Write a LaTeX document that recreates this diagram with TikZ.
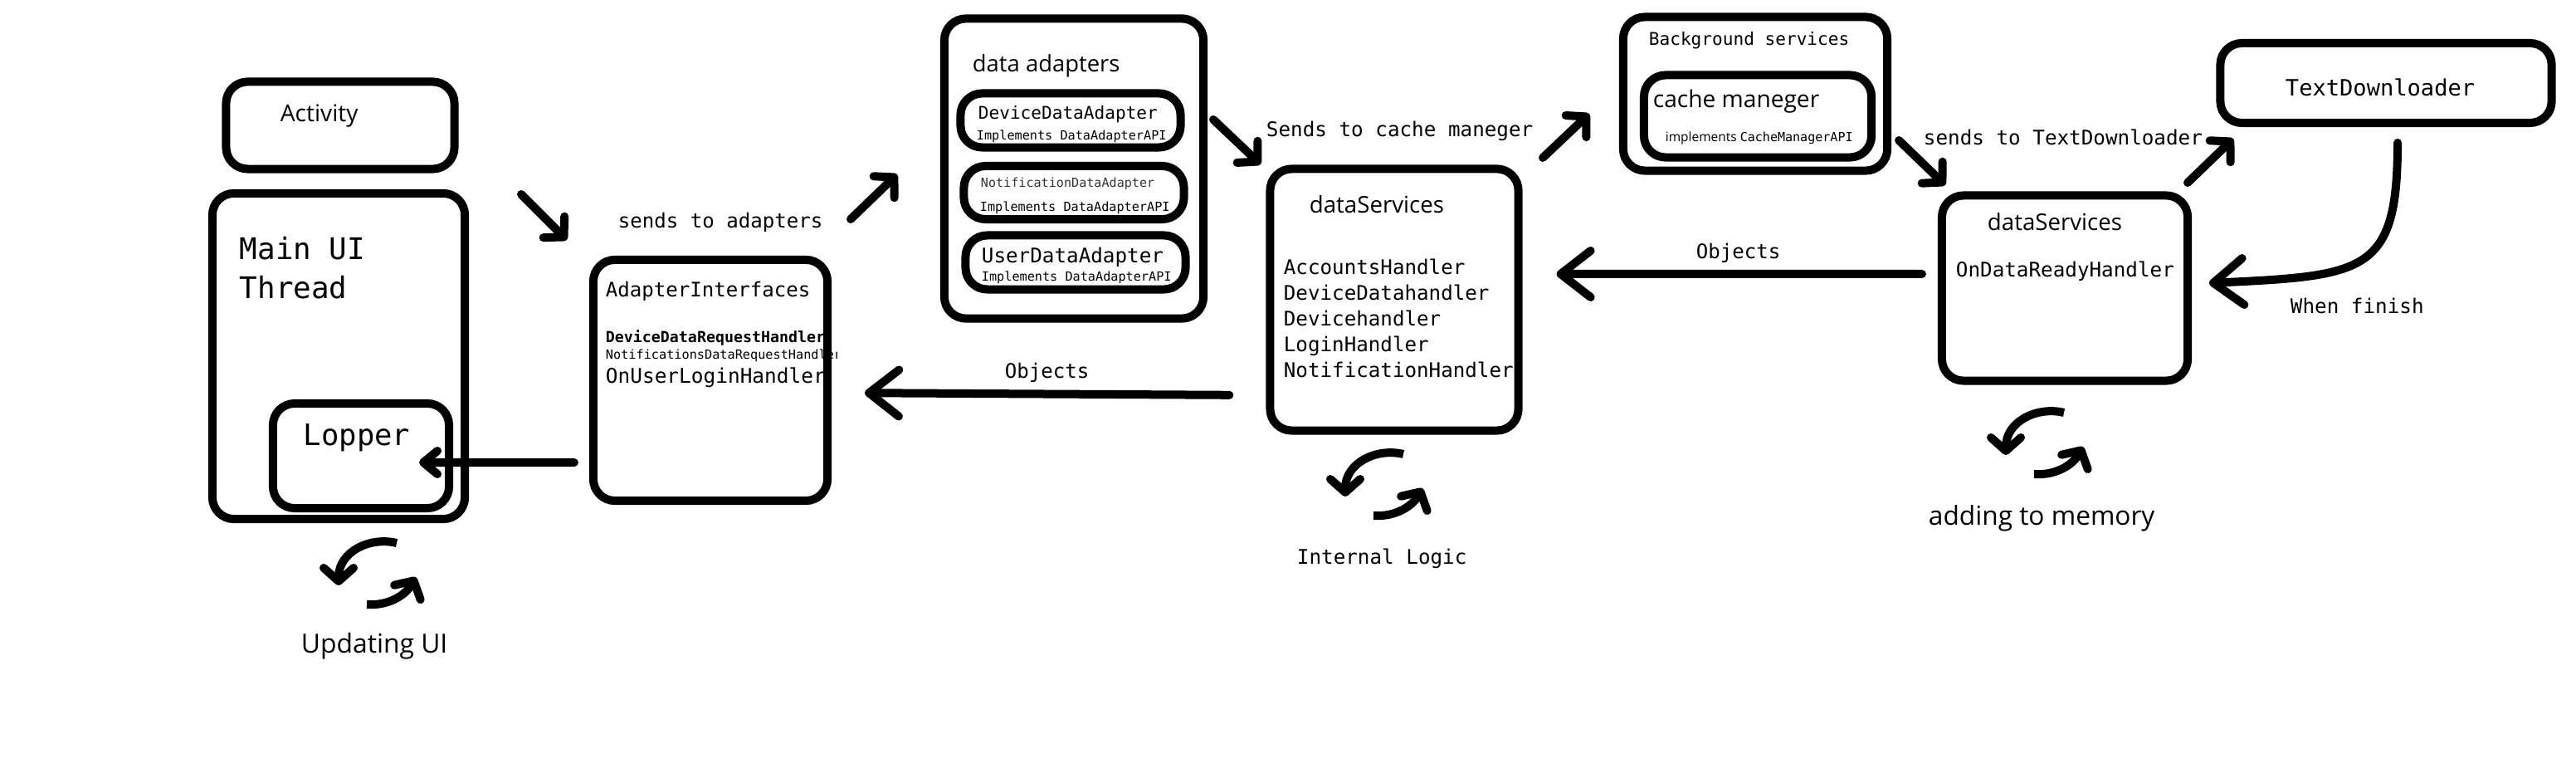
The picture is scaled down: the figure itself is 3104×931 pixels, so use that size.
\documentclass[tikz,border=0pt]{standalone}
\usepackage{fontspec}
\setmainfont{Open Sans}
\setmonofont{DejaVu Sans Mono}
\usetikzlibrary{arrows.meta}

\tikzset{
	box/.style={draw, line width=0.1cm, rounded corners=0.26cm, inner sep=0pt},
	monotext/.style={font=\ttfamily\fontsize{#1}{8.8}\selectfont, anchor=base west, inner sep=0pt, align=left, xshift=-0.008cm, yshift=-0.005cm},
	sanstext/.style={font=\fontsize{#1}{10}\selectfont, anchor=base west, inner sep=0pt, xshift=-0.008cm, yshift=-0.005cm},
	bigarrow/.style={line width=0.1cm, line cap=round, -{Straight Barb[round,length=0.36cm,width=0.56cm]}},
	diagarrow/.style={line width=0.1cm, line cap=round, -{Straight Barb[round,length=0.17cm,width=0.36cm]}},
	smallarrow/.style={line width=0.1cm, line cap=round, -{Straight Barb[round,length=0.17cm,width=0.28cm]}},
	syncloop/.pic={
		\draw[line width=0.1cm, -{Straight Barb[round,length=0.16cm,width=0.36cm]}] (28,-36) .. controls (-5,-44) and (-42,-25) .. (-42,15);
		\draw[line width=0.1cm, -{Straight Barb[round,length=0.16cm,width=0.36cm]}] (-8,38) .. controls (20,40) and (40,25) .. (51,5);
	}
}

\begin{document}
\begin{tikzpicture}[x=0.01cm, y=-0.01cm]
	\useasboundingbox (0,0) rectangle (3104,931);

	% texts go first, the box lines cover what runs too far
	\node[sanstext=8] (activitytext) at (338,146) {Activity};
	\node[monotext=10.2, font=\ttfamily\fontsize{10.2}{13.4}\selectfont] (mainthreadtext) at (289,359) {Main UI\\Thread};
	\node[monotext=10.1] (loppertext) at (366,536) {Lopper};
	\node[sanstext=9.05] (updatingtext) at (363,786) {Updating UI};
	\node[monotext=6.85] (sendsadapterstext) at (745,274) {sends to adapters};
	\node[monotext=6.85] (adapteriftext) at (730,357) {AdapterInterfaces};
	\node[monotext=5.2, font=\ttfamily\bfseries\fontsize{5.2}{7}\selectfont] (devicereqtext) at (730,412) {DeviceDataRequestHandler};
	\begin{scope}
		\clip (700,415) rectangle (1008,440);
		\node[monotext=4.33] (notifreqtext) at (730,432) {NotificationsDataRequestHandler};
	\end{scope}
	\node[monotext=6.95] (userlogintext) at (730,461) {OnUserLoginHandler};
	\node[monotext=6.85] (objectstext) at (1211,455) {Objects};

	\node[sanstext=7.8] (dataadapterstext) at (1172,86) {data adapters};
	\node[monotext=6] (devicetext) at (1179,143) {DeviceDataAdapter};
	\node[monotext=4.32] (deviceapitext) at (1177,168) {Implements DataAdapterAPI};
	\node[monotext=4.3, text=black!80] (notiftext) at (1182,225) {NotificationDataAdapter};
	\node[monotext=4.32] (notifapitext) at (1181,254) {Implements DataAdapterAPI};
	\node[monotext=6.9] (usertext) at (1183,316) {UserDataAdapter};
	\node[monotext=4.32] (userapitext) at (1183,338) {Implements DataAdapterAPI};

	\node[sanstext=7.86] (servicestext) at (1578,256) {dataServices};
	\node[monotext=6.88] (handlerstext) at (1547,454) {AccountsHandler\\DeviceDatahandler\\Devicehandler\\LoginHandler\\NotificationHandler};
	\node[monotext=6.9] (sendscachetext) at (1526,164) {Sends to cache maneger};
	\node[monotext=6.9] (logictext) at (1563,679) {Internal Logic};

	\node[monotext=6] (backgroundtext) at (1987,54) {Background services};
	\node[sanstext=8] (cachetext) at (1992,129) {cache maneger};
	\node[sanstext=4.4] (cacheapitext) at (2007,170) {implements {\ttfamily\fontsize{4.28}{6}\selectfont CacheManagerAPI}};
	\node[monotext=6.9] (sendstexttext) at (2318,174) {sends to TextDownloader};
	\node[monotext=7.7] (downloadertext) at (2754,115) {TextDownloader};
	\node[sanstext=7.86] (readytitletext) at (2395,277) {dataServices};
	\node[monotext=6.9] (readytext) at (2357,333) {OnDataReadyHandler};
	\node[monotext=6.85] (objectstwotext) at (2044,311) {Objects};
	\node[monotext=6.9] (finishtext) at (2760,377) {When finish};
	\node[sanstext=9] (memorytext) at (2324,632) {adding to memory};

	% boxes
	\node[box, minimum width=2.75cm, minimum height=1.05cm] (activity) at (410,151) {};
	\node[box, minimum width=3.04cm, minimum height=3.92cm] (mainthread) at (408,429) {};
	\node[box, minimum width=2.12cm, minimum height=1.26cm] (lopper) at (435,549) {};
	\node[box, minimum width=2.82cm, minimum height=2.90cm] (adapterif) at (856,458) {};
	\node[box, minimum width=3.12cm, minimum height=3.61cm] (dataadapters) at (1294,203) {};
	\node[box, minimum width=2.65cm, minimum height=0.65cm] (deviceadapter) at (1290,145) {};
	\node[box, minimum width=2.65cm, minimum height=0.64cm] (notifadapter) at (1294,232) {};
	\node[box, minimum width=2.65cm, minimum height=0.65cm] (useradapter) at (1296,316) {};
	\node[box, minimum width=2.99cm, minimum height=3.15cm] (dataservices) at (1680,361) {};
	\node[box, minimum width=3.18cm, minimum height=1.85cm] (background) at (2115,113) {};
	\node[box, minimum width=2.74cm, minimum height=0.99cm] (cachemanager) at (2118,140) {};
	\node[box, minimum width=3.99cm, minimum height=0.96cm] (downloader) at (2875,100) {};
	\node[box, minimum width=2.96cm, minimum height=2.23cm] (readyservices) at (2488,347) {};

	% free ends of the short arrows
	\coordinate (mainout) at (628,234);
	\coordinate (adapterin) at (683,289);
	\coordinate (adapterout) at (1025,264);
	\coordinate (dataadapterin) at (1081,210);
	\coordinate (dataadapterout) at (1462,144);
	\coordinate (servicesin) at (1519,198);
	\coordinate (servicesout) at (1859,190);
	\coordinate (backgroundin) at (1915,137);
	\coordinate (backgroundout) at (2288,169);
	\coordinate (readyin) at (2344,223);
	\coordinate (readyout) at (2636,220);
	\coordinate (downloaderin) at (2691,167);
	\coordinate (downloaderout) at (2889,172);
	\coordinate (readyback) at (2662,341);

	\draw[diagarrow] (mainout) -- (adapterin);
	\draw[diagarrow] (adapterout) -- (dataadapterin);
	\draw[diagarrow] (dataadapterout) -- (servicesin);
	\draw[diagarrow] (servicesout) -- (backgroundin);
	\draw[diagarrow] (backgroundout) -- (readyin);
	\draw[diagarrow] (readyout) -- (downloaderin);
	\draw[bigarrow] (downloaderout) .. controls (2889,330) and (2850,332) .. (readyback);
	\draw[smallarrow, shorten <=0.18cm, shorten >=0.7cm] ([yshift=-0.99cm]adapterif.west) -- ([yshift=-0.08cm]lopper.center);
	\draw[bigarrow, shorten <=0.44cm, shorten >=0.4cm] ([yshift=-1.15cm]dataservices.west) -- ([yshift=-0.15cm]adapterif.east);
	\draw[bigarrow, shorten <=0.19cm, shorten >=0.41cm] ([yshift=0.17cm]readyservices.west) -- ([yshift=0.31cm]dataservices.east);

	\pic (loopui) at (450,690) {syncloop};
	\pic (looplogic) at (1663,583) {syncloop};
	\pic (loopmemory) at (2459,533) {syncloop};
\end{tikzpicture}
\end{document}
